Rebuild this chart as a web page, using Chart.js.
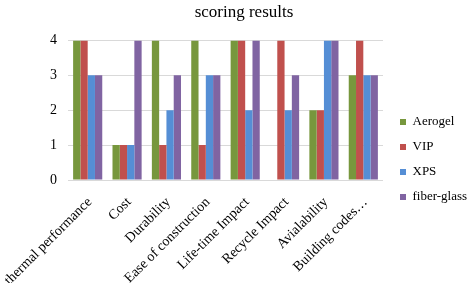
<!DOCTYPE html>
<html>
<head>
<meta charset="utf-8">
<script src="https://cdn.jsdelivr.net/npm/chart.js@4"></script>
<style>
  html, body { margin: 0; padding: 0; background: #fff; }
  canvas { display: block; }
</style>
</head>
<body>
<canvas id="chart" width="470" height="283"></canvas>
<script>
// data
const categories = ["thermal performance", "Cost", "Durability", "Ease of construction",
  "Life-time Impact", "Recycle Impact", "Avialability", "Building codes…"];
const aerogel = [4, 1, 4, 4, 4, 0, 2, 3];
const vip = [4, 1, 1, 1, 4, 4, 2, 4];
const xps = [3, 1, 2, 3, 2, 2, 4, 3];
const fiberGlass = [3, 4, 3, 3, 4, 3, 4, 3];
const yTicks = [0, 1, 2, 3, 4];

const serif = "'Times New Roman', 'Liberation Serif', serif";

// move legend / title to where the excel chart had them
const placeBlocks = {
  id: "placeBlocks",
  afterLayout(chart) {
    const lg = chart.legend;
    lg.left = 388;
    lg.right = 470;
    lg.top = 103.5;
    lg.bottom = 283;
    chart.titleBlock.left = 18;
  }
};

const ctx = document.getElementById("chart").getContext("2d");
new Chart(ctx, {
  type: "bar",
  data: {
    labels: categories,
    datasets: [
      { label: "Aerogel", data: aerogel, backgroundColor: "#77973D" },
      { label: "VIP", data: vip, backgroundColor: "#C0504D" },
      { label: "XPS", data: xps, backgroundColor: "#558ED5" },
      { label: "fiber-glass", data: fiberGlass, backgroundColor: "#8064A2" }
    ]
  },
  options: {
    responsive: false,
    animation: false,
    layout: { padding: 0 },
    datasets: {
      bar: { barPercentage: 1, categoryPercentage: 0.74 }
    },
    scales: {
      x: {
        grid: { display: false, drawTicks: false },
        border: { display: false },
        ticks: {
          autoSkip: false,
          maxRotation: 45,
          minRotation: 45,
          padding: 14,
          labelOffset: 2,
          color: "#000",
          font: { family: serif, size: 14 }
        },
        afterFit(scale) {
          scale.height = 103;
          scale.paddingLeft = 0;
          scale.paddingRight = 0;
        }
      },
      y: {
        min: 0,
        max: 4,
        afterBuildTicks(scale) {
          scale.ticks = yTicks.map(v => ({ value: v }));
        },
        grid: { color: "#D9D9D9", lineWidth: 1, drawTicks: false },
        border: { display: false },
        ticks: {
          padding: 11,
          color: "#000",
          font: { family: serif, size: 14 }
        },
        afterFit(scale) {
          scale.width = 68;
          scale.paddingTop = 0;
          scale.paddingBottom = 0;
        }
      }
    },
    plugins: {
      title: {
        display: true,
        text: "scoring results",
        color: "#000",
        font: { family: serif, size: 17, weight: "normal" },
        padding: { top: 2, bottom: 18 }
      },
      legend: {
        position: "right",
        align: "start",
        maxWidth: 87,
        labels: {
          boxWidth: 6,
          boxHeight: 6,
          padding: 12,
          color: "#000",
          font: { family: serif, size: 13 }
        }
      },
      tooltip: { enabled: false }
    }
  },
  plugins: [placeBlocks]
});
</script>
</body>
</html>
